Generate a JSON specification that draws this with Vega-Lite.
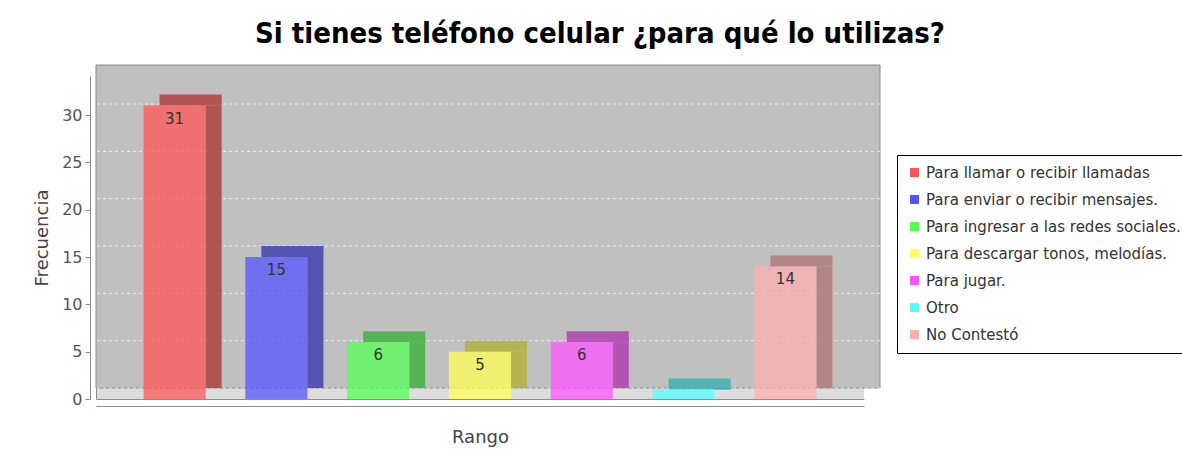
{
  "$schema": "https://vega.github.io/schema/vega-lite/v6.json",
  "width": 768,
  "height": 323,
  "autosize": {"type": "none"},
  "padding": {"left": 96, "top": 76, "right": 318, "bottom": 55},
  "background": "white",
  "config": {"view": {"fill": "#DDDDDD", "stroke": null}, "font": "DejaVu Sans"},
  "title": {
    "text": "Si tienes teléfono celular ¿para qué lo utilizas?",
    "font": "DejaVu Sans Condensed",
    "fontSize": 29,
    "fontWeight": "bold",
    "color": "black",
    "anchor": "middle",
    "frame": "group",
    "dx": 120,
    "offset": 16
  },
  "datasets": {
    "usos": [
      {"uso": "Para llamar o recibir llamadas", "n": 31},
      {"uso": "Para enviar o recibir mensajes.", "n": 15},
      {"uso": "Para ingresar a las redes sociales.", "n": 6},
      {"uso": "Para descargar tonos, melodías.", "n": 5},
      {"uso": "Para jugar.", "n": 6},
      {"uso": "Otro", "n": 1},
      {"uso": "No Contestó", "n": 14}
    ],
    "rejilla": [{"v": 0}, {"v": 5}, {"v": 10}, {"v": 15}, {"v": 20}, {"v": 25}, {"v": 30}],
    "pared": [{"base": 0, "tope": 34.12}]
  },
  "layer": [
    {
      "data": {"name": "pared"},
      "mark": {"type": "rect", "fill": "#C0C0C0", "stroke": "#8C8C8C", "strokeWidth": 1, "xOffset": 16, "x2Offset": 16, "yOffset": -11, "y2Offset": -11},
      "encoding": {
        "y": {"field": "base", "type": "quantitative", "scale": {"domain": [0, 34.12], "nice": false}, "axis": null},
        "y2": {"field": "tope"}
      }
    },
    {
      "data": {"name": "rejilla"},
      "mark": {"type": "rule", "stroke": "white", "strokeDash": [3, 3], "strokeWidth": 1, "opacity": 0.7, "xOffset": 16, "x2Offset": 16, "yOffset": -11, "y2Offset": -11},
      "encoding": {
        "y": {"field": "v", "type": "quantitative", "scale": {"domain": [0, 34.12], "nice": false}, "axis": null}
      }
    },
    {
      "data": {"name": "usos"},
      "mark": {"type": "bar", "fillOpacity": 0.75, "xOffset": 16, "yOffset": -11},
      "encoding": {
        "x": {"field": "uso", "type": "nominal", "sort": null, "scale": {"paddingInner": 0.39, "paddingOuter": 0.467}, "axis": null},
        "y": {"field": "n", "type": "quantitative", "scale": {"domain": [0, 34.12], "nice": false}, "axis": null},
        "y2": {"field": "n"},
        "color": {"field": "uso", "type": "nominal", "sort": null}
      }
    },
    {
      "data": {"name": "usos"},
      "mark": {"type": "bar", "fill": "black", "fillOpacity": 0.25, "xOffset": 16, "yOffset": -11},
      "encoding": {
        "x": {"field": "uso", "type": "nominal", "sort": null, "axis": null},
        "y": {"field": "n", "type": "quantitative", "scale": {"domain": [0, 34.12], "nice": false}, "axis": null},
        "y2": {"field": "n"}
      }
    },
    {
      "data": {"name": "usos"},
      "mark": {"type": "bar", "fillOpacity": 0.75, "width": 16, "xOffset": 39, "y2Offset": -11},
      "encoding": {
        "x": {"field": "uso", "type": "nominal", "sort": null, "axis": null},
        "y": {"field": "n", "type": "quantitative", "scale": {"domain": [0, 34.12], "nice": false}, "axis": null},
        "y2": {"datum": 0},
        "color": {"field": "uso", "type": "nominal", "sort": null}
      }
    },
    {
      "data": {"name": "usos"},
      "mark": {"type": "bar", "fill": "black", "fillOpacity": 0.25, "width": 16, "xOffset": 39, "y2Offset": -11},
      "encoding": {
        "x": {"field": "uso", "type": "nominal", "sort": null, "axis": {"orient": "bottom", "offset": 0, "labels": false, "ticks": false, "title": null, "domainColor": "#8C8C8C"}},
        "y": {"field": "n", "type": "quantitative", "scale": {"domain": [0, 34.12], "nice": false}, "axis": {"orient": "left", "offset": 0, "labels": false, "ticks": false, "title": null, "domainColor": "#8C8C8C", "grid": false}},
        "y2": {"datum": 0}
      }
    },
    {
      "data": {"name": "usos"},
      "mark": {"type": "bar", "fillOpacity": 0.75},
      "encoding": {
        "x": {"field": "uso", "type": "nominal", "sort": null, "axis": {"orient": "bottom", "offset": 7, "labels": false, "ticks": false, "domainColor": "#8C8C8C", "title": "Rango", "titleFont": "DejaVu Sans", "titleFontSize": 18, "titleFontWeight": "normal", "titleColor": "#444444", "titlePadding": 22}},
        "y": {"field": "n", "type": "quantitative", "scale": {"domain": [0, 34.12], "nice": false}, "axis": {"orient": "left", "offset": 6, "values": [0, 5, 10, 15, 20, 25, 30], "grid": false, "domainColor": "#8C8C8C", "tickColor": "#8C8C8C", "tickSize": 5, "labelFont": "DejaVu Sans", "labelFontSize": 16, "labelColor": "#555555", "labelPadding": 3, "title": "Frecuencia", "titleFont": "DejaVu Sans", "titleFontSize": 18, "titleFontWeight": "normal", "titleColor": "#444444", "titlePadding": 10}},
        "color": {
          "field": "uso",
          "type": "nominal",
          "sort": null,
          "scale": {
            "domain": ["Para llamar o recibir llamadas", "Para enviar o recibir mensajes.", "Para ingresar a las redes sociales.", "Para descargar tonos, melodías.", "Para jugar.", "Otro", "No Contestó"],
            "range": ["#FF5555", "#5555FF", "#55FF55", "#FFFF55", "#FF55FF", "#55FFFF", "#FFAFAF"]
          },
          "legend": {
            "orient": "none",
            "legendX": 801,
            "legendY": 79,
            "title": null,
            "symbolType": "square",
            "symbolSize": 81,
            "symbolStrokeWidth": 0,
            "symbolOpacity": 1,
            "labelFont": "DejaVu Sans",
            "labelFontSize": 15,
            "labelColor": "#333333",
            "labelLimit": 400,
            "rowPadding": 11,
            "padding": 10,
            "strokeColor": "black",
            "fillColor": "white"
          }
        }
      }
    },
    {
      "data": {"name": "usos"},
      "transform": [{"filter": "datum.n > 1"}],
      "mark": {"type": "text", "baseline": "top", "dy": 6, "fontSize": 15, "color": "#333333", "font": "DejaVu Sans"},
      "encoding": {
        "x": {"field": "uso", "type": "nominal", "sort": null, "axis": null},
        "y": {"field": "n", "type": "quantitative", "scale": {"domain": [0, 34.12], "nice": false}, "axis": null},
        "text": {"field": "n", "type": "quantitative"}
      }
    }
  ],
  "resolve": {"axis": {"x": "independent", "y": "independent"}}
}
